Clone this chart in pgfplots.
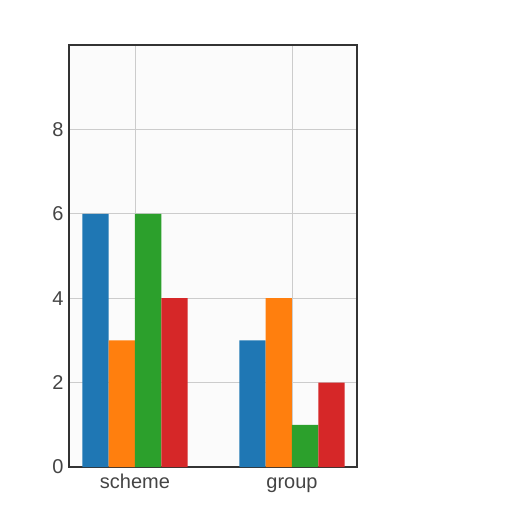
\documentclass[border=0pt]{standalone}
\usepackage{pgfplots}
\pgfplotsset{compat=1.18}
\usepackage{fontspec}
\setmainfont{Liberation Sans}
\definecolor{tabblue}{HTML}{1F77B4}
\definecolor{taborange}{HTML}{FF7F0E}
\definecolor{tabgreen}{HTML}{2CA02C}
\definecolor{tabred}{HTML}{D62728}
\definecolor{labelgray}{HTML}{444444}
\begin{document}
\begin{tikzpicture}
\path[use as bounding box] (0,0) rectangle (512pt,512pt);
\begin{axis}[
    at={(69pt,45pt)}, anchor=south west,
    scale only axis,
    width=288pt, height=422pt,
    ybar=0pt, bar width=26.3pt,
    xmin=-0.42, xmax=1.414,
    ymin=0, ymax=10,
    xtick={0,1}, xticklabels={scheme,group},
    ytick={0,2,4,6,8},
    major tick length=0pt,
    xmajorgrids, ymajorgrids,
    grid style={draw=black!20, line width=0.8pt},
    axis line style={draw=black!80, line width=2pt},
    axis background/.style={fill=black!1.5},
    tick label style={font=\fontsize{20}{22}\selectfont, text=labelgray},
    /pgf/number format/assume math mode=true,
    yticklabel style={xshift=-2pt},
    xticklabel style={anchor=base, yshift=-21pt},
]
% scheme, group
\addplot[fill=tabblue, draw=none] coordinates {(0,6) (1,3)};
\addplot[fill=taborange, draw=none] coordinates {(0,3) (1,4)};
\addplot[fill=tabgreen, draw=none] coordinates {(0,6) (1,1)};
\addplot[fill=tabred, draw=none] coordinates {(0,4) (1,2)};
\end{axis}
\end{tikzpicture}
\end{document}
